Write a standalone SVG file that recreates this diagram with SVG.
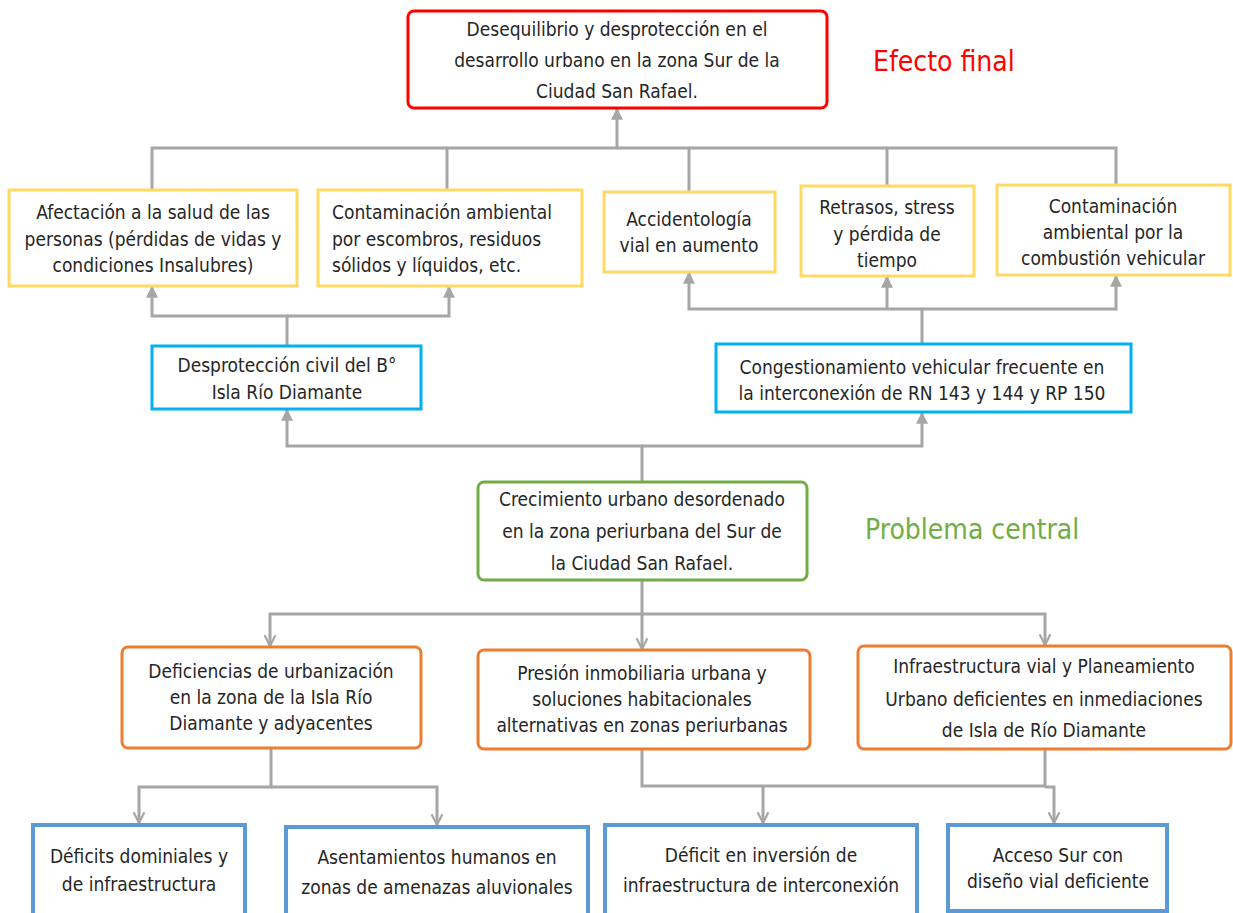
<svg xmlns="http://www.w3.org/2000/svg" width="1233" height="913" viewBox="0 0 1233 913">
  <style>
    text { font-family: "DejaVu Sans Condensed", "Liberation Sans", sans-serif; font-size: 19px; fill: #262626; }
    .c { text-anchor: middle; }
    .box { fill: #ffffff; stroke-width: 3; }
    .red { stroke: #FF0000; }
    .yel { stroke: #FFD966; }
    .cyan { stroke: #00B0F0; }
    .grn { stroke: #70AD47; }
    .org { stroke: #ED7D31; }
    .blu { stroke: #5B9BD5; stroke-width: 4; }
    .wire { fill: none; stroke: #A6A6A6; stroke-width: 3; }
    .title { font-size: 28px; }
  </style>
  <defs>
    <marker id="tri" viewBox="0 0 10 10" refX="9" refY="5" markerWidth="4" markerHeight="4" orient="auto" markerUnits="strokeWidth">
      <path d="M0,0 L10,5 L0,10 z" fill="#A6A6A6"/>
    </marker>
    <marker id="vee" viewBox="0 0 10 10" refX="9" refY="5" markerWidth="4.5" markerHeight="4.5" orient="auto" markerUnits="strokeWidth">
      <path d="M1,1 L9,5 L1,9" fill="none" stroke="#A6A6A6" stroke-width="1.6"/>
    </marker>
  </defs>

  <!-- connectors -->
  <g id="connectors" class="wire">
    <!-- effects to final effect -->
    <path d="M152,190 V148 H1116 V185"/>
    <path d="M447,148 V190"/>
    <path d="M689,148 V192"/>
    <path d="M887,148 V186"/>
    <path d="M617,148 V109" marker-end="url(#tri)"/>
    <!-- civil protection to its effects -->
    <path d="M287,346 V316 H152 V287" marker-end="url(#tri)"/>
    <path d="M287,316 H449 V287" marker-end="url(#tri)"/>
    <!-- congestion to its effects -->
    <path d="M922,344 V309 H689 V273" marker-end="url(#tri)"/>
    <path d="M887,309 V277" marker-end="url(#tri)"/>
    <path d="M922,309 H1116 V276" marker-end="url(#tri)"/>
    <!-- central problem to direct effects -->
    <path d="M642,482 V446 H287 V410" marker-end="url(#tri)"/>
    <path d="M642,446 H922 V413" marker-end="url(#tri)"/>
    <!-- central problem to causes -->
    <path d="M642,580 V614 H270 V646" marker-end="url(#vee)"/>
    <path d="M642,614 V649" marker-end="url(#vee)"/>
    <path d="M642,614 H1045 V645" marker-end="url(#vee)"/>
    <!-- urbanization deficiencies to root causes -->
    <path d="M271,749 V787 H139 V823" marker-end="url(#vee)"/>
    <path d="M271,787 H437 V825" marker-end="url(#vee)"/>
    <!-- housing pressure and road planning to root causes -->
    <path d="M642,750 V786 H1045 V750"/>
    <path d="M763,786 V823" marker-end="url(#vee)"/>
    <path d="M1045,787 H1054 V823" marker-end="url(#vee)"/>
  </g>

  <!-- final effect -->
  <g id="final-effect">
    <rect class="box red" x="408" y="11" width="419" height="97" rx="6"/>
    <text class="c" x="617" y="36">Desequilibrio y desprotección en el</text>
    <text class="c" x="617" y="67">desarrollo urbano en la zona Sur de la</text>
    <text class="c" x="617" y="98">Ciudad San Rafael.</text>
  </g>
  <text id="label-effect" class="title" x="873" y="71" style="fill:#FF0000">Efecto final</text>

  <!-- effects -->
  <g id="effect-health">
    <rect class="box yel" x="9" y="190" width="288" height="96"/>
    <text class="c" x="153" y="219">Afectación a la salud de las</text>
    <text class="c" x="153" y="246">personas (pérdidas de vidas y</text>
    <text class="c" x="153" y="272">condiciones Insalubres)</text>
  </g>
  <g id="effect-waste">
    <rect class="box yel" x="318" y="190" width="264" height="96"/>
    <text x="332" y="219">Contaminación ambiental</text>
    <text x="332" y="246">por escombros, residuos</text>
    <text x="332" y="272">sólidos y líquidos, etc.</text>
  </g>
  <g id="effect-accidents">
    <rect class="box yel" x="604" y="192" width="171" height="80"/>
    <text class="c" x="689" y="226">Accidentología</text>
    <text class="c" x="689" y="252">vial en aumento</text>
  </g>
  <g id="effect-delays">
    <rect class="box yel" x="801" y="186" width="173" height="90"/>
    <text class="c" x="887" y="214">Retrasos, stress</text>
    <text class="c" x="887" y="241">y pérdida de</text>
    <text class="c" x="887" y="267">tiempo</text>
  </g>
  <g id="effect-emissions">
    <rect class="box yel" x="997" y="185" width="233" height="90"/>
    <text class="c" x="1113" y="213">Contaminación</text>
    <text class="c" x="1113" y="239">ambiental por la</text>
    <text class="c" x="1113" y="265">combustión vehicular</text>
  </g>

  <!-- direct effects -->
  <g id="civil-protection">
    <rect class="box cyan" x="152" y="346" width="269" height="63"/>
    <text class="c" x="287" y="372">Desprotección civil del B°</text>
    <text class="c" x="287" y="399">Isla Río Diamante</text>
  </g>
  <g id="congestion">
    <rect class="box cyan" x="716" y="344" width="415" height="68"/>
    <text class="c" x="922" y="374">Congestionamiento vehicular frecuente en</text>
    <text class="c" x="922" y="400">la interconexión de RN 143 y 144 y RP 150</text>
  </g>

  <!-- central problem -->
  <g id="central-problem">
    <rect class="box grn" x="478" y="482" width="329" height="98" rx="6"/>
    <text class="c" x="642" y="506">Crecimiento urbano desordenado</text>
    <text class="c" x="642" y="538">en la zona periurbana del Sur de</text>
    <text class="c" x="642" y="570">la Ciudad San Rafael.</text>
  </g>
  <text id="label-problem" class="title" x="865" y="539" style="fill:#70AD47">Problema central</text>

  <!-- causes -->
  <g id="cause-urbanization">
    <rect class="box org" x="122" y="647" width="299" height="101" rx="6"/>
    <text class="c" x="271" y="678">Deficiencias de urbanización</text>
    <text class="c" x="271" y="704">en la zona de la Isla Río</text>
    <text class="c" x="271" y="730">Diamante y adyacentes</text>
  </g>
  <g id="cause-housing">
    <rect class="box org" x="478" y="650" width="332" height="99" rx="6"/>
    <text class="c" x="642" y="680">Presión inmobiliaria urbana y</text>
    <text class="c" x="642" y="706">soluciones habitacionales</text>
    <text class="c" x="642" y="732">alternativas en zonas periurbanas</text>
  </g>
  <g id="cause-roads">
    <rect class="box org" x="858" y="646" width="373" height="103" rx="6"/>
    <text class="c" x="1044" y="673">Infraestructura vial y Planeamiento</text>
    <text class="c" x="1044" y="706">Urbano deficientes en inmediaciones</text>
    <text class="c" x="1044" y="737">de Isla de Río Diamante</text>
  </g>

  <!-- root causes -->
  <g id="root-ownership">
    <rect class="box blu" x="33" y="825" width="212" height="95"/>
    <text class="c" x="139" y="863">Déficits dominiales y</text>
    <text class="c" x="139" y="891">de infraestructura</text>
  </g>
  <g id="root-settlements">
    <rect class="box blu" x="286" y="827" width="302" height="95"/>
    <text class="c" x="437" y="864">Asentamientos humanos en</text>
    <text class="c" x="437" y="894">zonas de amenazas aluvionales</text>
  </g>
  <g id="root-investment">
    <rect class="box blu" x="605" y="825" width="312" height="95"/>
    <text class="c" x="761" y="862">Déficit en inversión de</text>
    <text class="c" x="761" y="892">infraestructura de interconexión</text>
  </g>
  <g id="root-access">
    <rect class="box blu" x="948" y="825" width="219" height="86"/>
    <text class="c" x="1058" y="862">Acceso Sur con</text>
    <text class="c" x="1058" y="888">diseño vial deficiente</text>
  </g>
</svg>
